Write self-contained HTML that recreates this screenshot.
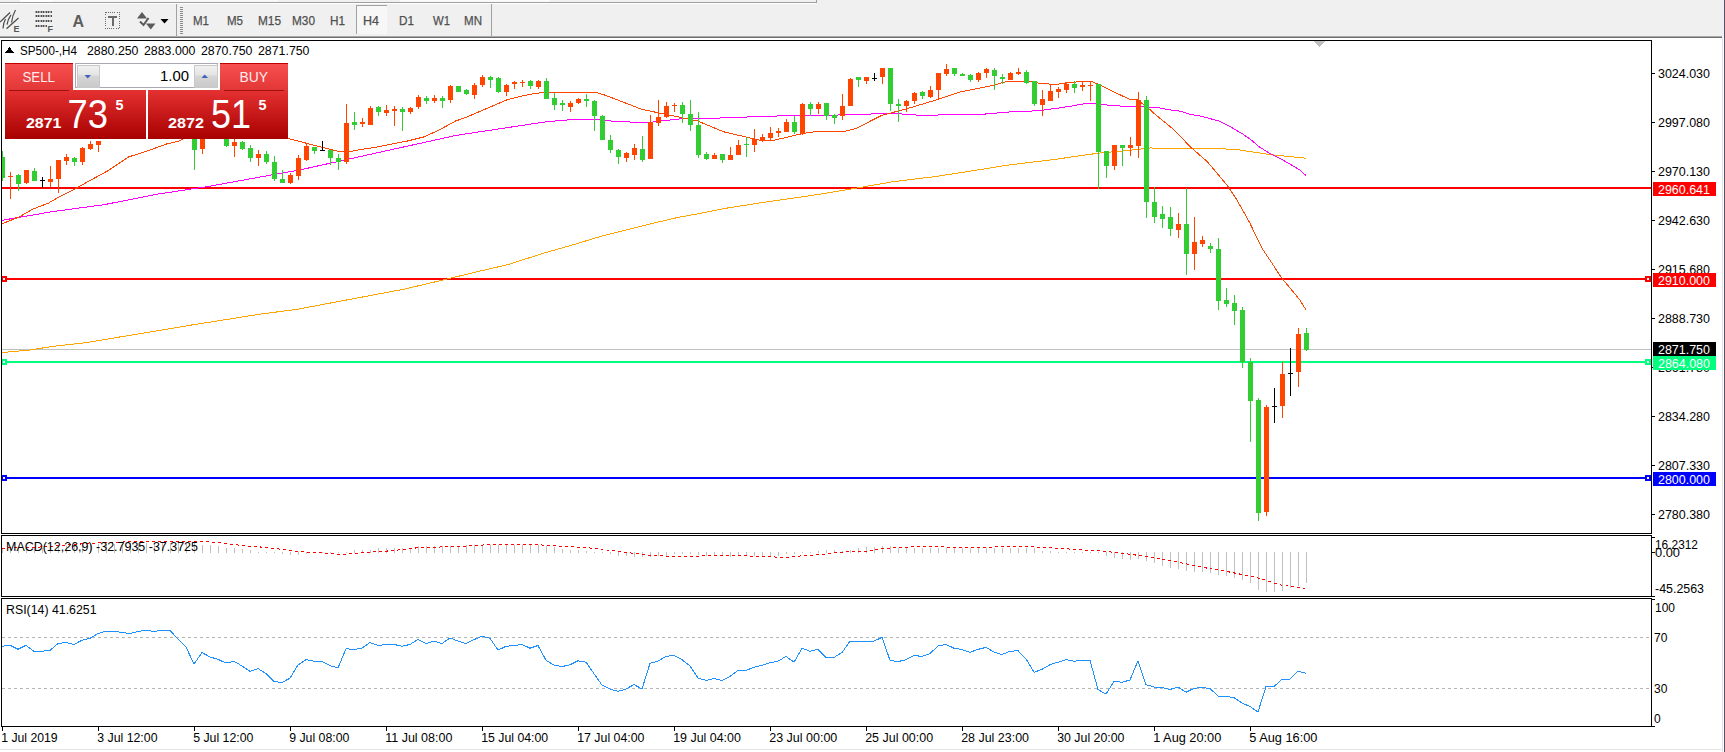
<!DOCTYPE html>
<html><head><meta charset="utf-8"><style>
html,body{margin:0;padding:0;width:1725px;height:752px;overflow:hidden;background:#fff;}
body{position:relative;font-family:"Liberation Sans", sans-serif;}
.tb{position:absolute;left:0;top:0;width:1725px;height:38px;background:#f0f0f0;}
svg{position:absolute;left:0;top:0;}
text{font-family:"Liberation Sans", sans-serif;}
</style></head><body>
<svg width="1725" height="752" viewBox="0 0 1725 752" shape-rendering="crispEdges">
<rect x="0" y="0" width="1725" height="752" fill="#fff"/>
<rect x="0" y="0" width="1725" height="38" fill="#f0f0f0"/>
<rect x="20" y="0" width="32" height="2" fill="#ffffff"/>
<rect x="52" y="0" width="226" height="2" fill="#f8f8f8"/>
<rect x="400" y="0" width="150" height="2" fill="#fafafa"/>
<rect x="0" y="2" width="816" height="1" fill="#a0a0a0"/>
<rect x="816" y="0" width="1" height="3" fill="#a0a0a0"/>
<rect x="0" y="3" width="816" height="1" fill="#ffffff"/>
<rect x="0" y="36" width="1722" height="1" fill="#a8a8a8"/>
<rect x="0" y="37" width="1722" height="1" fill="#6e6e6e"/>
<rect x="0" y="38" width="1722" height="2" fill="#ffffff"/>
<!-- right edge -->
<rect x="1722" y="38" width="1" height="714" fill="#e3e3e3"/>
<rect x="1723" y="38" width="1" height="714" fill="#ffffff"/>
<rect x="1724" y="0" width="1" height="752" fill="#5a5262"/>
<rect x="0" y="749" width="1722" height="1" fill="#e3e3e3"/>
<!-- separators -->
<rect x="176" y="4" width="1" height="32" fill="#a0a0a0"/>
<g fill="#8a8a8a">
<rect x="180" y="7" width="3" height="1"/><rect x="180" y="9" width="3" height="1"/><rect x="180" y="11" width="3" height="1"/><rect x="180" y="13" width="3" height="1"/><rect x="180" y="15" width="3" height="1"/><rect x="180" y="17" width="3" height="1"/><rect x="180" y="19" width="3" height="1"/><rect x="180" y="21" width="3" height="1"/><rect x="180" y="23" width="3" height="1"/><rect x="180" y="25" width="3" height="1"/><rect x="180" y="27" width="3" height="1"/><rect x="180" y="29" width="3" height="1"/><rect x="180" y="31" width="3" height="1"/><rect x="180" y="33" width="3" height="1"/>
</g>
<rect x="491" y="4" width="1" height="32" fill="#a0a0a0"/>
<!-- H4 pressed button -->
<rect x="356" y="5" width="31" height="29" fill="#f7f7f7"/>
<rect x="356" y="5" width="31" height="1" fill="#a0a0a0"/>
<rect x="356" y="5" width="1" height="29" fill="#a0a0a0"/>
<!-- timeframe labels -->
<g font-size="12" fill="#505050" font-family="Liberation Sans, sans-serif" stroke="#505050" stroke-width="0.25">
<text x="193" y="25" textLength="16" lengthAdjust="spacingAndGlyphs">M1</text>
<text x="227" y="25" textLength="16" lengthAdjust="spacingAndGlyphs">M5</text>
<text x="258" y="25" textLength="23" lengthAdjust="spacingAndGlyphs">M15</text>
<text x="292" y="25" textLength="23" lengthAdjust="spacingAndGlyphs">M30</text>
<text x="330" y="25" textLength="15" lengthAdjust="spacingAndGlyphs">H1</text>
<text x="363" y="25" textLength="16" lengthAdjust="spacingAndGlyphs">H4</text>
<text x="399" y="25" textLength="15" lengthAdjust="spacingAndGlyphs">D1</text>
<text x="433" y="25" textLength="17" lengthAdjust="spacingAndGlyphs">W1</text>
<text x="464" y="25" textLength="18" lengthAdjust="spacingAndGlyphs">MN</text>
</g>
<!-- icon 1: equidistant channel -->
<g stroke="#4a4a4a" stroke-width="1.2" fill="none" shape-rendering="geometricPrecision">
<path d="M0,22 L10,12.5"/>
<path d="M6.5,28.8 L18.5,18"/>
<path d="M3,28.4 Q3.2,23 5.5,19 M7,24.6 Q8,19 11,14.9 M11.5,22.5 Q12.5,15 15.5,10"/>
</g>
<text x="13.5" y="32" font-size="9" font-weight="bold" fill="#555" font-family="Liberation Sans, sans-serif">E</text>
<!-- icon 2: fibo -->
<rect x="35" y="11" width="17" height="2" fill="#a8a8a8"/><rect x="36" y="11" width="1" height="2" fill="#505050"/><rect x="38" y="11" width="1" height="2" fill="#505050"/><rect x="41" y="11" width="1" height="2" fill="#505050"/><rect x="43" y="11" width="1" height="2" fill="#505050"/><rect x="46" y="11" width="1" height="2" fill="#505050"/><rect x="48" y="11" width="1" height="2" fill="#505050"/><rect x="51" y="11" width="1" height="2" fill="#505050"/><rect x="35" y="15" width="17" height="2" fill="#a8a8a8"/><rect x="36" y="15" width="1" height="2" fill="#505050"/><rect x="38" y="15" width="1" height="2" fill="#505050"/><rect x="41" y="15" width="1" height="2" fill="#505050"/><rect x="43" y="15" width="1" height="2" fill="#505050"/><rect x="46" y="15" width="1" height="2" fill="#505050"/><rect x="48" y="15" width="1" height="2" fill="#505050"/><rect x="51" y="15" width="1" height="2" fill="#505050"/><rect x="35" y="20" width="17" height="2" fill="#a8a8a8"/><rect x="36" y="20" width="1" height="2" fill="#505050"/><rect x="38" y="20" width="1" height="2" fill="#505050"/><rect x="41" y="20" width="1" height="2" fill="#505050"/><rect x="43" y="20" width="1" height="2" fill="#505050"/><rect x="46" y="20" width="1" height="2" fill="#505050"/><rect x="48" y="20" width="1" height="2" fill="#505050"/><rect x="51" y="20" width="1" height="2" fill="#505050"/><rect x="35" y="25" width="12" height="2" fill="#a8a8a8"/><rect x="36" y="25" width="1" height="2" fill="#505050"/><rect x="38" y="25" width="1" height="2" fill="#505050"/><rect x="41" y="25" width="1" height="2" fill="#505050"/><rect x="43" y="25" width="1" height="2" fill="#505050"/><rect x="46" y="25" width="1" height="2" fill="#505050"/>
<text x="47.5" y="32" font-size="9" font-weight="bold" fill="#555" font-family="Liberation Sans, sans-serif">F</text>
<!-- icon 3: A -->
<text x="72.5" y="26.7" font-size="16" font-weight="bold" fill="#5e5e5e" font-family="Liberation Sans, sans-serif">A</text>
<!-- icon 4: T box -->
<rect x="105.5" y="12.5" width="14" height="16" fill="none" stroke="#6a6a6a" stroke-width="1" stroke-dasharray="1,1.2"/>
<rect x="108" y="16" width="9" height="2" fill="#6a6a6a"/>
<rect x="111.5" y="16" width="2" height="10" fill="#6a6a6a"/>
<!-- icon 5: arrows -->
<g shape-rendering="geometricPrecision">
<path d="M137,18.5 L142,12 L147,18.5 Z" fill="#5a5a5a"/>
<path d="M146,23.5 L155.5,23.5 L150.75,29.5 Z" fill="#5a5a5a"/>
<path d="M140,21.5 L143.5,25 L148.5,18" fill="none" stroke="#5a5a5a" stroke-width="2"/>
<path d="M160.5,19 L168.5,19 L164.5,23.5 Z" fill="#000"/>
</g>

<defs><clipPath id="cm"><rect x="2" y="41" width="1649" height="492"/></clipPath><clipPath id="cd"><rect x="2" y="537" width="1649" height="59"/></clipPath><clipPath id="cr"><rect x="2" y="599" width="1649" height="127"/></clipPath></defs>
<g clip-path="url(#cm)">
<rect x="2" y="349" width="1649" height="1" fill="#c0c0c0"/>
<rect x="2" y="187" width="1649" height="2" fill="#ff0000"/>
<rect x="2" y="278" width="1649" height="2" fill="#ff0000"/>
<rect x="2" y="361" width="1649" height="2" fill="#00ff7f"/>
<rect x="2" y="477" width="1649" height="2" fill="#0000ff"/>
<polyline points="2.0,352.6 30.0,350.0 52.0,346.5 87.0,342.5 122.0,336.6 157.0,330.9 191.0,325.1 226.0,319.6 261.0,314.0 296.0,309.5 404.0,289.2 443.0,280.0 474.0,272.5 509.0,264.3 540.0,254.3 577.0,243.6 600.0,236.6 628.0,229.5 651.0,223.7 679.0,217.2 700.0,213.5 725.0,208.4 767.0,201.8 809.0,195.9 850.0,189.2 892.0,181.9 934.0,176.7 950.0,174.3 985.0,168.8 1008.0,165.1 1031.0,162.2 1054.0,159.6 1077.0,156.1 1100.0,153.0 1124.0,150.9 1150.0,148.0 1219.8,148.6 1239.0,149.9 1270.9,154.7 1306.0,158.2" fill="none" stroke="#ffa500" stroke-width="1"/>
<polyline points="2.0,220.3 52.0,211.7 104.0,204.7 156.5,194.3 208.7,186.4 260.9,176.9 300.8,169.7 456.0,135.4 546.0,121.8 573.6,119.4 596.0,119.1 615.0,121.5 639.0,122.3 650.0,122.3 679.0,119.0 711.0,118.3 734.8,117.5 766.0,116.2 814.6,115.4 862.4,114.6 878.4,113.5 906.0,114.1 919.0,115.3 982.0,114.3 1014.0,111.6 1038.0,110.8 1056.0,108.4 1070.0,106.3 1086.0,103.4 1094.0,103.4 1103.0,104.3 1110.0,105.5 1127.0,106.4 1134.0,106.4 1150.0,107.1 1160.0,108.0 1170.0,109.9 1180.0,111.1 1190.0,114.4 1200.0,116.0 1210.0,118.6 1220.0,121.3 1230.0,126.5 1243.0,134.2 1250.0,139.0 1259.0,146.6 1270.0,153.6 1280.0,158.5 1290.0,164.0 1300.0,170.2 1306.0,175.5" fill="none" stroke="#ff00ff" stroke-width="1"/>
<polyline points="2.0,223.8 19.4,216.9 33.0,209.0 48.7,203.0 59.0,196.9 74.8,189.0 90.4,180.3 107.8,170.8 128.7,156.9 147.8,150.8 167.0,143.8 179.0,141.2 200.0,128.0 288.7,138.6 300.0,141.6 338.0,151.3 351.8,151.3 359.8,149.7 375.7,147.3 391.7,144.1 407.6,141.0 423.6,137.0 439.5,129.8 455.5,121.0 465.0,117.8 506.6,100.0 522.5,95.8 537.0,93.1 557.6,92.3 596.0,92.3 606.0,95.5 642.3,109.5 671.0,115.4 698.0,121.1 723.6,131.8 756.0,139.3 762.0,140.6 774.7,140.1 801.8,133.7 814.6,131.7 844.9,131.3 856.0,128.5 881.6,115.4 906.0,109.0 938.3,99.3 959.8,92.0 991.7,85.6 1007.6,81.3 1030.0,81.3 1039.5,83.4 1056.0,84.5 1070.0,82.3 1085.9,81.5 1092.0,81.5 1100.0,85.2 1129.0,99.1 1137.0,99.6 1149.7,109.4 1156.0,115.1 1173.6,129.4 1181.5,137.5 1189.5,146.1 1207.0,161.4 1214.4,170.0 1227.8,186.1 1235.8,198.1 1249.5,222.3 1261.8,248.0 1281.7,277.9 1299.7,299.8 1305.7,309.4" fill="none" stroke="#ff4500" stroke-width="1"/>
<rect x="2" y="151" width="1" height="30" fill="#32cd32"/>
<rect x="0" y="157" width="5" height="21" fill="#32cd32"/>
<rect x="10" y="172" width="1" height="27" fill="#ff4500"/>
<rect x="8" y="176" width="5" height="1" fill="#ff4500"/>
<rect x="18" y="174" width="1" height="17" fill="#32cd32"/>
<rect x="16" y="175" width="5" height="9" fill="#32cd32"/>
<rect x="26" y="170" width="1" height="14" fill="#ff4500"/>
<rect x="24" y="170" width="5" height="13" fill="#ff4500"/>
<rect x="34" y="168" width="1" height="13" fill="#32cd32"/>
<rect x="32" y="171" width="5" height="10" fill="#32cd32"/>
<rect x="42" y="177" width="1" height="11" fill="#000000"/>
<rect x="40" y="180" width="5" height="1" fill="#000000"/>
<rect x="50" y="166" width="1" height="21" fill="#ff4500"/>
<rect x="48" y="179" width="5" height="3" fill="#ff4500"/>
<rect x="58" y="160" width="1" height="33" fill="#ff4500"/>
<rect x="56" y="160" width="5" height="19" fill="#ff4500"/>
<rect x="66" y="154" width="1" height="11" fill="#ff4500"/>
<rect x="64" y="157" width="5" height="4" fill="#ff4500"/>
<rect x="74" y="157" width="1" height="9" fill="#32cd32"/>
<rect x="72" y="158" width="5" height="4" fill="#32cd32"/>
<rect x="82" y="147" width="1" height="18" fill="#ff4500"/>
<rect x="80" y="148" width="5" height="14" fill="#ff4500"/>
<rect x="90" y="141" width="1" height="9" fill="#ff4500"/>
<rect x="88" y="144" width="5" height="5" fill="#ff4500"/>
<rect x="98" y="141" width="1" height="11" fill="#ff4500"/>
<rect x="96" y="141" width="5" height="4" fill="#ff4500"/>
<rect x="194" y="120" width="1" height="50" fill="#32cd32"/>
<rect x="192" y="125" width="5" height="25" fill="#32cd32"/>
<rect x="202" y="128" width="1" height="26" fill="#ff4500"/>
<rect x="200" y="130" width="5" height="19" fill="#ff4500"/>
<rect x="226" y="133" width="1" height="14" fill="#32cd32"/>
<rect x="224" y="135" width="5" height="11" fill="#32cd32"/>
<rect x="234" y="136" width="1" height="21" fill="#ff4500"/>
<rect x="232" y="142" width="5" height="4" fill="#ff4500"/>
<rect x="242" y="141" width="1" height="9" fill="#32cd32"/>
<rect x="240" y="142" width="5" height="7" fill="#32cd32"/>
<rect x="250" y="145" width="1" height="17" fill="#32cd32"/>
<rect x="248" y="148" width="5" height="10" fill="#32cd32"/>
<rect x="258" y="150" width="1" height="16" fill="#ff4500"/>
<rect x="256" y="154" width="5" height="4" fill="#ff4500"/>
<rect x="266" y="151" width="1" height="13" fill="#32cd32"/>
<rect x="264" y="154" width="5" height="8" fill="#32cd32"/>
<rect x="274" y="156" width="1" height="25" fill="#32cd32"/>
<rect x="272" y="162" width="5" height="17" fill="#32cd32"/>
<rect x="282" y="170" width="1" height="13" fill="#32cd32"/>
<rect x="280" y="179" width="5" height="4" fill="#32cd32"/>
<rect x="290" y="173" width="1" height="11" fill="#ff4500"/>
<rect x="288" y="175" width="5" height="8" fill="#ff4500"/>
<rect x="298" y="155" width="1" height="25" fill="#ff4500"/>
<rect x="296" y="158" width="5" height="18" fill="#ff4500"/>
<rect x="306" y="143" width="1" height="18" fill="#ff4500"/>
<rect x="304" y="146" width="5" height="14" fill="#ff4500"/>
<rect x="314" y="147" width="1" height="7" fill="#32cd32"/>
<rect x="312" y="147" width="5" height="4" fill="#32cd32"/>
<rect x="322" y="141" width="1" height="10" fill="#000000"/>
<rect x="320" y="150" width="5" height="1" fill="#000000"/>
<rect x="330" y="150" width="1" height="15" fill="#32cd32"/>
<rect x="328" y="150" width="5" height="8" fill="#32cd32"/>
<rect x="338" y="154" width="1" height="16" fill="#32cd32"/>
<rect x="336" y="158" width="5" height="4" fill="#32cd32"/>
<rect x="346" y="104" width="1" height="60" fill="#ff4500"/>
<rect x="344" y="123" width="5" height="39" fill="#ff4500"/>
<rect x="354" y="112" width="1" height="18" fill="#32cd32"/>
<rect x="352" y="122" width="5" height="3" fill="#32cd32"/>
<rect x="362" y="118" width="1" height="9" fill="#ff4500"/>
<rect x="360" y="122" width="5" height="2" fill="#ff4500"/>
<rect x="370" y="106" width="1" height="19" fill="#ff4500"/>
<rect x="368" y="108" width="5" height="17" fill="#ff4500"/>
<rect x="378" y="106" width="1" height="10" fill="#32cd32"/>
<rect x="376" y="107" width="5" height="5" fill="#32cd32"/>
<rect x="386" y="105" width="1" height="11" fill="#ff4500"/>
<rect x="384" y="110" width="5" height="3" fill="#ff4500"/>
<rect x="394" y="106" width="1" height="20" fill="#ff4500"/>
<rect x="392" y="109" width="5" height="2" fill="#ff4500"/>
<rect x="402" y="107" width="1" height="24" fill="#32cd32"/>
<rect x="400" y="109" width="5" height="3" fill="#32cd32"/>
<rect x="410" y="107" width="1" height="7" fill="#ff4500"/>
<rect x="408" y="108" width="5" height="4" fill="#ff4500"/>
<rect x="418" y="95" width="1" height="14" fill="#ff4500"/>
<rect x="416" y="97" width="5" height="10" fill="#ff4500"/>
<rect x="426" y="96" width="1" height="8" fill="#32cd32"/>
<rect x="424" y="98" width="5" height="3" fill="#32cd32"/>
<rect x="434" y="95" width="1" height="8" fill="#ff4500"/>
<rect x="432" y="98" width="5" height="3" fill="#ff4500"/>
<rect x="442" y="96" width="1" height="12" fill="#32cd32"/>
<rect x="440" y="98" width="5" height="3" fill="#32cd32"/>
<rect x="450" y="85" width="1" height="18" fill="#ff4500"/>
<rect x="448" y="86" width="5" height="14" fill="#ff4500"/>
<rect x="458" y="86" width="1" height="6" fill="#32cd32"/>
<rect x="456" y="86" width="5" height="6" fill="#32cd32"/>
<rect x="466" y="89" width="1" height="6" fill="#32cd32"/>
<rect x="464" y="90" width="5" height="4" fill="#32cd32"/>
<rect x="474" y="83" width="1" height="16" fill="#ff4500"/>
<rect x="472" y="85" width="5" height="10" fill="#ff4500"/>
<rect x="482" y="75" width="1" height="12" fill="#ff4500"/>
<rect x="480" y="77" width="5" height="8" fill="#ff4500"/>
<rect x="490" y="76" width="1" height="12" fill="#32cd32"/>
<rect x="488" y="77" width="5" height="3" fill="#32cd32"/>
<rect x="498" y="77" width="1" height="16" fill="#32cd32"/>
<rect x="496" y="78" width="5" height="14" fill="#32cd32"/>
<rect x="506" y="84" width="1" height="12" fill="#ff4500"/>
<rect x="504" y="85" width="5" height="7" fill="#ff4500"/>
<rect x="514" y="81" width="1" height="8" fill="#ff4500"/>
<rect x="512" y="82" width="5" height="2" fill="#ff4500"/>
<rect x="522" y="80" width="1" height="7" fill="#ff4500"/>
<rect x="520" y="82" width="5" height="1" fill="#ff4500"/>
<rect x="530" y="80" width="1" height="9" fill="#32cd32"/>
<rect x="528" y="81" width="5" height="5" fill="#32cd32"/>
<rect x="538" y="80" width="1" height="9" fill="#ff4500"/>
<rect x="536" y="81" width="5" height="6" fill="#ff4500"/>
<rect x="546" y="78" width="1" height="21" fill="#32cd32"/>
<rect x="544" y="81" width="5" height="18" fill="#32cd32"/>
<rect x="554" y="93" width="1" height="17" fill="#32cd32"/>
<rect x="552" y="98" width="5" height="7" fill="#32cd32"/>
<rect x="562" y="100" width="1" height="11" fill="#32cd32"/>
<rect x="560" y="103" width="5" height="2" fill="#32cd32"/>
<rect x="570" y="101" width="1" height="11" fill="#ff4500"/>
<rect x="568" y="103" width="5" height="4" fill="#ff4500"/>
<rect x="578" y="98" width="1" height="6" fill="#ff4500"/>
<rect x="576" y="99" width="5" height="4" fill="#ff4500"/>
<rect x="586" y="94" width="1" height="13" fill="#32cd32"/>
<rect x="584" y="99" width="5" height="2" fill="#32cd32"/>
<rect x="594" y="100" width="1" height="31" fill="#32cd32"/>
<rect x="592" y="101" width="5" height="15" fill="#32cd32"/>
<rect x="602" y="115" width="1" height="25" fill="#32cd32"/>
<rect x="600" y="116" width="5" height="24" fill="#32cd32"/>
<rect x="610" y="135" width="1" height="18" fill="#32cd32"/>
<rect x="608" y="140" width="5" height="10" fill="#32cd32"/>
<rect x="618" y="149" width="1" height="15" fill="#32cd32"/>
<rect x="616" y="150" width="5" height="7" fill="#32cd32"/>
<rect x="626" y="152" width="1" height="10" fill="#ff4500"/>
<rect x="624" y="153" width="5" height="5" fill="#ff4500"/>
<rect x="634" y="144" width="1" height="16" fill="#ff4500"/>
<rect x="632" y="148" width="5" height="7" fill="#ff4500"/>
<rect x="642" y="136" width="1" height="26" fill="#32cd32"/>
<rect x="640" y="149" width="5" height="11" fill="#32cd32"/>
<rect x="650" y="115" width="1" height="44" fill="#ff4500"/>
<rect x="648" y="122" width="5" height="37" fill="#ff4500"/>
<rect x="658" y="100" width="1" height="26" fill="#ff4500"/>
<rect x="656" y="117" width="5" height="6" fill="#ff4500"/>
<rect x="666" y="102" width="1" height="16" fill="#ff4500"/>
<rect x="664" y="106" width="5" height="11" fill="#ff4500"/>
<rect x="674" y="103" width="1" height="9" fill="#ff4500"/>
<rect x="672" y="105" width="5" height="1" fill="#ff4500"/>
<rect x="682" y="102" width="1" height="21" fill="#32cd32"/>
<rect x="680" y="105" width="5" height="9" fill="#32cd32"/>
<rect x="690" y="100" width="1" height="31" fill="#32cd32"/>
<rect x="688" y="114" width="5" height="11" fill="#32cd32"/>
<rect x="698" y="112" width="1" height="46" fill="#32cd32"/>
<rect x="696" y="125" width="5" height="30" fill="#32cd32"/>
<rect x="706" y="152" width="1" height="8" fill="#32cd32"/>
<rect x="704" y="154" width="5" height="5" fill="#32cd32"/>
<rect x="714" y="153" width="1" height="6" fill="#ff4500"/>
<rect x="712" y="155" width="5" height="4" fill="#ff4500"/>
<rect x="722" y="154" width="1" height="9" fill="#32cd32"/>
<rect x="720" y="154" width="5" height="6" fill="#32cd32"/>
<rect x="730" y="147" width="1" height="13" fill="#ff4500"/>
<rect x="728" y="155" width="5" height="5" fill="#ff4500"/>
<rect x="738" y="140" width="1" height="15" fill="#ff4500"/>
<rect x="736" y="145" width="5" height="10" fill="#ff4500"/>
<rect x="746" y="137" width="1" height="20" fill="#32cd32"/>
<rect x="744" y="144" width="5" height="1" fill="#32cd32"/>
<rect x="754" y="129" width="1" height="23" fill="#ff4500"/>
<rect x="752" y="139" width="5" height="6" fill="#ff4500"/>
<rect x="762" y="134" width="1" height="8" fill="#ff4500"/>
<rect x="760" y="137" width="5" height="4" fill="#ff4500"/>
<rect x="770" y="127" width="1" height="13" fill="#ff4500"/>
<rect x="768" y="133" width="5" height="5" fill="#ff4500"/>
<rect x="778" y="128" width="1" height="9" fill="#ff4500"/>
<rect x="776" y="131" width="5" height="2" fill="#ff4500"/>
<rect x="786" y="119" width="1" height="13" fill="#ff4500"/>
<rect x="784" y="122" width="5" height="10" fill="#ff4500"/>
<rect x="794" y="116" width="1" height="18" fill="#32cd32"/>
<rect x="792" y="122" width="5" height="10" fill="#32cd32"/>
<rect x="802" y="103" width="1" height="32" fill="#ff4500"/>
<rect x="800" y="104" width="5" height="29" fill="#ff4500"/>
<rect x="810" y="102" width="1" height="14" fill="#32cd32"/>
<rect x="808" y="104" width="5" height="5" fill="#32cd32"/>
<rect x="818" y="102" width="1" height="12" fill="#ff4500"/>
<rect x="816" y="104" width="5" height="5" fill="#ff4500"/>
<rect x="826" y="103" width="1" height="17" fill="#32cd32"/>
<rect x="824" y="103" width="5" height="13" fill="#32cd32"/>
<rect x="834" y="114" width="1" height="10" fill="#32cd32"/>
<rect x="832" y="115" width="5" height="3" fill="#32cd32"/>
<rect x="842" y="94" width="1" height="26" fill="#ff4500"/>
<rect x="840" y="106" width="5" height="10" fill="#ff4500"/>
<rect x="850" y="78" width="1" height="28" fill="#ff4500"/>
<rect x="848" y="79" width="5" height="27" fill="#ff4500"/>
<rect x="858" y="77" width="1" height="10" fill="#32cd32"/>
<rect x="856" y="77" width="5" height="3" fill="#32cd32"/>
<rect x="866" y="77" width="1" height="7" fill="#ff4500"/>
<rect x="864" y="77" width="5" height="4" fill="#ff4500"/>
<rect x="874" y="73" width="1" height="8" fill="#000000"/>
<rect x="872" y="78" width="5" height="1" fill="#000000"/>
<rect x="882" y="68" width="1" height="16" fill="#ff4500"/>
<rect x="880" y="68" width="5" height="9" fill="#ff4500"/>
<rect x="890" y="68" width="1" height="43" fill="#32cd32"/>
<rect x="888" y="68" width="5" height="36" fill="#32cd32"/>
<rect x="898" y="99" width="1" height="23" fill="#32cd32"/>
<rect x="896" y="104" width="5" height="2" fill="#32cd32"/>
<rect x="906" y="100" width="1" height="12" fill="#ff4500"/>
<rect x="904" y="101" width="5" height="5" fill="#ff4500"/>
<rect x="914" y="92" width="1" height="12" fill="#ff4500"/>
<rect x="912" y="93" width="5" height="8" fill="#ff4500"/>
<rect x="922" y="91" width="1" height="8" fill="#32cd32"/>
<rect x="920" y="92" width="5" height="4" fill="#32cd32"/>
<rect x="930" y="86" width="1" height="12" fill="#ff4500"/>
<rect x="928" y="90" width="5" height="7" fill="#ff4500"/>
<rect x="938" y="73" width="1" height="26" fill="#ff4500"/>
<rect x="936" y="73" width="5" height="17" fill="#ff4500"/>
<rect x="946" y="64" width="1" height="12" fill="#ff4500"/>
<rect x="944" y="69" width="5" height="5" fill="#ff4500"/>
<rect x="954" y="68" width="1" height="8" fill="#32cd32"/>
<rect x="952" y="68" width="5" height="6" fill="#32cd32"/>
<rect x="962" y="73" width="1" height="3" fill="#32cd32"/>
<rect x="960" y="74" width="5" height="2" fill="#32cd32"/>
<rect x="970" y="74" width="1" height="8" fill="#32cd32"/>
<rect x="968" y="75" width="5" height="5" fill="#32cd32"/>
<rect x="978" y="72" width="1" height="10" fill="#ff4500"/>
<rect x="976" y="73" width="5" height="7" fill="#ff4500"/>
<rect x="986" y="68" width="1" height="10" fill="#ff4500"/>
<rect x="984" y="69" width="5" height="4" fill="#ff4500"/>
<rect x="994" y="68" width="1" height="22" fill="#32cd32"/>
<rect x="992" y="70" width="5" height="6" fill="#32cd32"/>
<rect x="1002" y="74" width="1" height="10" fill="#32cd32"/>
<rect x="1000" y="77" width="5" height="2" fill="#32cd32"/>
<rect x="1010" y="72" width="1" height="8" fill="#ff4500"/>
<rect x="1008" y="73" width="5" height="7" fill="#ff4500"/>
<rect x="1018" y="68" width="1" height="7" fill="#ff4500"/>
<rect x="1016" y="72" width="5" height="2" fill="#ff4500"/>
<rect x="1026" y="70" width="1" height="14" fill="#32cd32"/>
<rect x="1024" y="72" width="5" height="11" fill="#32cd32"/>
<rect x="1034" y="81" width="1" height="25" fill="#32cd32"/>
<rect x="1032" y="81" width="5" height="23" fill="#32cd32"/>
<rect x="1042" y="90" width="1" height="26" fill="#ff4500"/>
<rect x="1040" y="99" width="5" height="6" fill="#ff4500"/>
<rect x="1050" y="84" width="1" height="17" fill="#ff4500"/>
<rect x="1048" y="91" width="5" height="10" fill="#ff4500"/>
<rect x="1058" y="87" width="1" height="11" fill="#ff4500"/>
<rect x="1056" y="89" width="5" height="3" fill="#ff4500"/>
<rect x="1066" y="82" width="1" height="11" fill="#ff4500"/>
<rect x="1064" y="84" width="5" height="6" fill="#ff4500"/>
<rect x="1074" y="81" width="1" height="12" fill="#32cd32"/>
<rect x="1072" y="84" width="5" height="4" fill="#32cd32"/>
<rect x="1082" y="81" width="1" height="10" fill="#ff4500"/>
<rect x="1080" y="85" width="5" height="2" fill="#ff4500"/>
<rect x="1090" y="81" width="1" height="20" fill="#ff4500"/>
<rect x="1088" y="85" width="5" height="1" fill="#ff4500"/>
<rect x="1098" y="84" width="1" height="105" fill="#32cd32"/>
<rect x="1096" y="84" width="5" height="68" fill="#32cd32"/>
<rect x="1106" y="151" width="1" height="27" fill="#32cd32"/>
<rect x="1104" y="151" width="5" height="15" fill="#32cd32"/>
<rect x="1114" y="145" width="1" height="25" fill="#ff4500"/>
<rect x="1112" y="145" width="5" height="21" fill="#ff4500"/>
<rect x="1122" y="145" width="1" height="21" fill="#32cd32"/>
<rect x="1120" y="145" width="5" height="3" fill="#32cd32"/>
<rect x="1130" y="137" width="1" height="19" fill="#ff4500"/>
<rect x="1128" y="145" width="5" height="3" fill="#ff4500"/>
<rect x="1138" y="92" width="1" height="66" fill="#ff4500"/>
<rect x="1136" y="100" width="5" height="46" fill="#ff4500"/>
<rect x="1146" y="96" width="1" height="122" fill="#32cd32"/>
<rect x="1144" y="100" width="5" height="102" fill="#32cd32"/>
<rect x="1154" y="187" width="1" height="36" fill="#32cd32"/>
<rect x="1152" y="202" width="5" height="15" fill="#32cd32"/>
<rect x="1162" y="206" width="1" height="22" fill="#32cd32"/>
<rect x="1160" y="214" width="5" height="5" fill="#32cd32"/>
<rect x="1170" y="207" width="1" height="29" fill="#32cd32"/>
<rect x="1168" y="217" width="5" height="12" fill="#32cd32"/>
<rect x="1178" y="213" width="1" height="25" fill="#ff4500"/>
<rect x="1176" y="224" width="5" height="6" fill="#ff4500"/>
<rect x="1186" y="188" width="1" height="87" fill="#32cd32"/>
<rect x="1184" y="224" width="5" height="30" fill="#32cd32"/>
<rect x="1194" y="217" width="1" height="53" fill="#ff4500"/>
<rect x="1192" y="242" width="5" height="12" fill="#ff4500"/>
<rect x="1202" y="236" width="1" height="11" fill="#ff4500"/>
<rect x="1200" y="240" width="5" height="4" fill="#ff4500"/>
<rect x="1210" y="243" width="1" height="10" fill="#32cd32"/>
<rect x="1208" y="246" width="5" height="3" fill="#32cd32"/>
<rect x="1218" y="238" width="1" height="72" fill="#32cd32"/>
<rect x="1216" y="249" width="5" height="52" fill="#32cd32"/>
<rect x="1226" y="288" width="1" height="19" fill="#32cd32"/>
<rect x="1224" y="300" width="5" height="4" fill="#32cd32"/>
<rect x="1234" y="295" width="1" height="30" fill="#32cd32"/>
<rect x="1232" y="303" width="5" height="8" fill="#32cd32"/>
<rect x="1242" y="307" width="1" height="61" fill="#32cd32"/>
<rect x="1240" y="310" width="5" height="52" fill="#32cd32"/>
<rect x="1250" y="358" width="1" height="84" fill="#32cd32"/>
<rect x="1248" y="362" width="5" height="39" fill="#32cd32"/>
<rect x="1258" y="398" width="1" height="123" fill="#32cd32"/>
<rect x="1256" y="400" width="5" height="113" fill="#32cd32"/>
<rect x="1266" y="405" width="1" height="111" fill="#ff4500"/>
<rect x="1264" y="407" width="5" height="105" fill="#ff4500"/>
<rect x="1274" y="388" width="1" height="35" fill="#000000"/>
<rect x="1272" y="406" width="5" height="1" fill="#000000"/>
<rect x="1282" y="362" width="1" height="56" fill="#ff4500"/>
<rect x="1280" y="374" width="5" height="32" fill="#ff4500"/>
<rect x="1290" y="348" width="1" height="48" fill="#000000"/>
<rect x="1288" y="373" width="5" height="1" fill="#000000"/>
<rect x="1298" y="328" width="1" height="59" fill="#ff4500"/>
<rect x="1296" y="334" width="5" height="38" fill="#ff4500"/>
<rect x="1306" y="328" width="1" height="23" fill="#32cd32"/>
<rect x="1304" y="333" width="5" height="17" fill="#32cd32"/>
</g>
<rect x="1" y="276" width="6" height="6" fill="#ff0000"/><rect x="3" y="278" width="2" height="2" fill="#fff"/>
<rect x="1645" y="276" width="6" height="6" fill="#ff0000"/><rect x="1647" y="278" width="2" height="2" fill="#fff"/>
<rect x="1" y="359" width="6" height="6" fill="#00ff7f"/><rect x="3" y="361" width="2" height="2" fill="#fff"/>
<rect x="1645" y="359" width="6" height="6" fill="#00ff7f"/><rect x="1647" y="361" width="2" height="2" fill="#fff"/>
<rect x="1" y="475" width="6" height="6" fill="#0000ff"/><rect x="3" y="477" width="2" height="2" fill="#fff"/>
<rect x="1645" y="475" width="6" height="6" fill="#0000ff"/><rect x="1647" y="477" width="2" height="2" fill="#fff"/>
<g clip-path="url(#cd)">
<rect x="2" y="548" width="1" height="5" fill="#c0c0c0"/>
<rect x="10" y="548" width="1" height="5" fill="#c0c0c0"/>
<rect x="18" y="548" width="1" height="5" fill="#c0c0c0"/>
<rect x="26" y="548" width="1" height="5" fill="#c0c0c0"/>
<rect x="34" y="548" width="1" height="5" fill="#c0c0c0"/>
<rect x="42" y="548" width="1" height="5" fill="#c0c0c0"/>
<rect x="50" y="546" width="1" height="7" fill="#c0c0c0"/>
<rect x="58" y="546" width="1" height="7" fill="#c0c0c0"/>
<rect x="66" y="546" width="1" height="7" fill="#c0c0c0"/>
<rect x="74" y="546" width="1" height="7" fill="#c0c0c0"/>
<rect x="82" y="546" width="1" height="7" fill="#c0c0c0"/>
<rect x="90" y="544" width="1" height="9" fill="#c0c0c0"/>
<rect x="98" y="544" width="1" height="9" fill="#c0c0c0"/>
<rect x="106" y="544" width="1" height="9" fill="#c0c0c0"/>
<rect x="114" y="544" width="1" height="9" fill="#c0c0c0"/>
<rect x="122" y="544" width="1" height="9" fill="#c0c0c0"/>
<rect x="130" y="543" width="1" height="10" fill="#c0c0c0"/>
<rect x="138" y="543" width="1" height="10" fill="#c0c0c0"/>
<rect x="146" y="543" width="1" height="10" fill="#c0c0c0"/>
<rect x="154" y="543" width="1" height="10" fill="#c0c0c0"/>
<rect x="162" y="543" width="1" height="10" fill="#c0c0c0"/>
<rect x="170" y="543" width="1" height="10" fill="#c0c0c0"/>
<rect x="178" y="543" width="1" height="10" fill="#c0c0c0"/>
<rect x="186" y="543" width="1" height="10" fill="#c0c0c0"/>
<rect x="194" y="543" width="1" height="10" fill="#c0c0c0"/>
<rect x="202" y="545" width="1" height="8" fill="#c0c0c0"/>
<rect x="210" y="545" width="1" height="8" fill="#c0c0c0"/>
<rect x="218" y="546" width="1" height="7" fill="#c0c0c0"/>
<rect x="226" y="548" width="1" height="5" fill="#c0c0c0"/>
<rect x="234" y="548" width="1" height="5" fill="#c0c0c0"/>
<rect x="242" y="549" width="1" height="4" fill="#c0c0c0"/>
<rect x="250" y="550" width="1" height="3" fill="#c0c0c0"/>
<rect x="258" y="552" width="1" height="1" fill="#c0c0c0"/>
<rect x="266" y="552" width="1" height="1" fill="#c0c0c0"/>
<rect x="274" y="552" width="1" height="1" fill="#c0c0c0"/>
<rect x="282" y="552" width="1" height="2" fill="#c0c0c0"/>
<rect x="290" y="552" width="1" height="3" fill="#c0c0c0"/>
<rect x="298" y="552" width="1" height="3" fill="#c0c0c0"/>
<rect x="306" y="552" width="1" height="2" fill="#c0c0c0"/>
<rect x="314" y="552" width="1" height="1" fill="#c0c0c0"/>
<rect x="322" y="552" width="1" height="1" fill="#c0c0c0"/>
<rect x="330" y="552" width="1" height="1" fill="#c0c0c0"/>
<rect x="338" y="552" width="1" height="1" fill="#c0c0c0"/>
<rect x="346" y="552" width="1" height="1" fill="#c0c0c0"/>
<rect x="354" y="550" width="1" height="3" fill="#c0c0c0"/>
<rect x="362" y="550" width="1" height="3" fill="#c0c0c0"/>
<rect x="370" y="550" width="1" height="3" fill="#c0c0c0"/>
<rect x="378" y="548" width="1" height="5" fill="#c0c0c0"/>
<rect x="386" y="548" width="1" height="5" fill="#c0c0c0"/>
<rect x="394" y="548" width="1" height="5" fill="#c0c0c0"/>
<rect x="402" y="548" width="1" height="5" fill="#c0c0c0"/>
<rect x="410" y="548" width="1" height="5" fill="#c0c0c0"/>
<rect x="418" y="546" width="1" height="7" fill="#c0c0c0"/>
<rect x="426" y="546" width="1" height="7" fill="#c0c0c0"/>
<rect x="434" y="546" width="1" height="7" fill="#c0c0c0"/>
<rect x="442" y="546" width="1" height="7" fill="#c0c0c0"/>
<rect x="450" y="546" width="1" height="7" fill="#c0c0c0"/>
<rect x="458" y="546" width="1" height="7" fill="#c0c0c0"/>
<rect x="466" y="545" width="1" height="8" fill="#c0c0c0"/>
<rect x="474" y="545" width="1" height="8" fill="#c0c0c0"/>
<rect x="482" y="545" width="1" height="8" fill="#c0c0c0"/>
<rect x="490" y="545" width="1" height="8" fill="#c0c0c0"/>
<rect x="498" y="545" width="1" height="8" fill="#c0c0c0"/>
<rect x="506" y="545" width="1" height="8" fill="#c0c0c0"/>
<rect x="514" y="545" width="1" height="8" fill="#c0c0c0"/>
<rect x="522" y="545" width="1" height="8" fill="#c0c0c0"/>
<rect x="530" y="545" width="1" height="8" fill="#c0c0c0"/>
<rect x="538" y="545" width="1" height="8" fill="#c0c0c0"/>
<rect x="546" y="546" width="1" height="7" fill="#c0c0c0"/>
<rect x="554" y="547" width="1" height="6" fill="#c0c0c0"/>
<rect x="562" y="549" width="1" height="4" fill="#c0c0c0"/>
<rect x="570" y="550" width="1" height="3" fill="#c0c0c0"/>
<rect x="578" y="550" width="1" height="3" fill="#c0c0c0"/>
<rect x="586" y="551" width="1" height="2" fill="#c0c0c0"/>
<rect x="594" y="552" width="1" height="1" fill="#c0c0c0"/>
<rect x="602" y="552" width="1" height="1" fill="#c0c0c0"/>
<rect x="610" y="552" width="1" height="2" fill="#c0c0c0"/>
<rect x="618" y="552" width="1" height="4" fill="#c0c0c0"/>
<rect x="626" y="552" width="1" height="4" fill="#c0c0c0"/>
<rect x="634" y="552" width="1" height="5" fill="#c0c0c0"/>
<rect x="642" y="552" width="1" height="5" fill="#c0c0c0"/>
<rect x="650" y="552" width="1" height="5" fill="#c0c0c0"/>
<rect x="658" y="552" width="1" height="4" fill="#c0c0c0"/>
<rect x="666" y="552" width="1" height="4" fill="#c0c0c0"/>
<rect x="674" y="552" width="1" height="2" fill="#c0c0c0"/>
<rect x="682" y="552" width="1" height="2" fill="#c0c0c0"/>
<rect x="690" y="552" width="1" height="2" fill="#c0c0c0"/>
<rect x="698" y="552" width="1" height="3" fill="#c0c0c0"/>
<rect x="706" y="552" width="1" height="4" fill="#c0c0c0"/>
<rect x="714" y="552" width="1" height="4" fill="#c0c0c0"/>
<rect x="722" y="552" width="1" height="4" fill="#c0c0c0"/>
<rect x="730" y="552" width="1" height="5" fill="#c0c0c0"/>
<rect x="738" y="552" width="1" height="4" fill="#c0c0c0"/>
<rect x="746" y="552" width="1" height="4" fill="#c0c0c0"/>
<rect x="754" y="552" width="1" height="4" fill="#c0c0c0"/>
<rect x="762" y="552" width="1" height="4" fill="#c0c0c0"/>
<rect x="770" y="552" width="1" height="4" fill="#c0c0c0"/>
<rect x="778" y="552" width="1" height="4" fill="#c0c0c0"/>
<rect x="786" y="552" width="1" height="2" fill="#c0c0c0"/>
<rect x="794" y="552" width="1" height="2" fill="#c0c0c0"/>
<rect x="802" y="552" width="1" height="1" fill="#c0c0c0"/>
<rect x="810" y="552" width="1" height="1" fill="#c0c0c0"/>
<rect x="818" y="551" width="1" height="2" fill="#c0c0c0"/>
<rect x="826" y="550" width="1" height="3" fill="#c0c0c0"/>
<rect x="834" y="550" width="1" height="3" fill="#c0c0c0"/>
<rect x="842" y="551" width="1" height="2" fill="#c0c0c0"/>
<rect x="850" y="550" width="1" height="3" fill="#c0c0c0"/>
<rect x="858" y="548" width="1" height="5" fill="#c0c0c0"/>
<rect x="866" y="547" width="1" height="6" fill="#c0c0c0"/>
<rect x="874" y="547" width="1" height="6" fill="#c0c0c0"/>
<rect x="882" y="546" width="1" height="7" fill="#c0c0c0"/>
<rect x="890" y="546" width="1" height="7" fill="#c0c0c0"/>
<rect x="898" y="548" width="1" height="5" fill="#c0c0c0"/>
<rect x="906" y="548" width="1" height="5" fill="#c0c0c0"/>
<rect x="914" y="548" width="1" height="5" fill="#c0c0c0"/>
<rect x="922" y="548" width="1" height="5" fill="#c0c0c0"/>
<rect x="930" y="548" width="1" height="5" fill="#c0c0c0"/>
<rect x="938" y="548" width="1" height="5" fill="#c0c0c0"/>
<rect x="946" y="548" width="1" height="5" fill="#c0c0c0"/>
<rect x="954" y="548" width="1" height="5" fill="#c0c0c0"/>
<rect x="962" y="548" width="1" height="5" fill="#c0c0c0"/>
<rect x="970" y="548" width="1" height="5" fill="#c0c0c0"/>
<rect x="978" y="548" width="1" height="5" fill="#c0c0c0"/>
<rect x="986" y="548" width="1" height="5" fill="#c0c0c0"/>
<rect x="994" y="548" width="1" height="5" fill="#c0c0c0"/>
<rect x="1002" y="548" width="1" height="5" fill="#c0c0c0"/>
<rect x="1010" y="548" width="1" height="5" fill="#c0c0c0"/>
<rect x="1018" y="548" width="1" height="5" fill="#c0c0c0"/>
<rect x="1026" y="548" width="1" height="5" fill="#c0c0c0"/>
<rect x="1034" y="548" width="1" height="5" fill="#c0c0c0"/>
<rect x="1042" y="551" width="1" height="2" fill="#c0c0c0"/>
<rect x="1050" y="551" width="1" height="2" fill="#c0c0c0"/>
<rect x="1058" y="552" width="1" height="1" fill="#c0c0c0"/>
<rect x="1066" y="552" width="1" height="1" fill="#c0c0c0"/>
<rect x="1074" y="552" width="1" height="1" fill="#c0c0c0"/>
<rect x="1082" y="552" width="1" height="1" fill="#c0c0c0"/>
<rect x="1090" y="552" width="1" height="1" fill="#c0c0c0"/>
<rect x="1098" y="552" width="1" height="1" fill="#c0c0c0"/>
<rect x="1106" y="552" width="1" height="4" fill="#c0c0c0"/>
<rect x="1114" y="552" width="1" height="6" fill="#c0c0c0"/>
<rect x="1122" y="552" width="1" height="7" fill="#c0c0c0"/>
<rect x="1130" y="552" width="1" height="8" fill="#c0c0c0"/>
<rect x="1138" y="552" width="1" height="7" fill="#c0c0c0"/>
<rect x="1146" y="552" width="1" height="9" fill="#c0c0c0"/>
<rect x="1154" y="552" width="1" height="11" fill="#c0c0c0"/>
<rect x="1162" y="552" width="1" height="14" fill="#c0c0c0"/>
<rect x="1170" y="552" width="1" height="16" fill="#c0c0c0"/>
<rect x="1178" y="552" width="1" height="17" fill="#c0c0c0"/>
<rect x="1186" y="552" width="1" height="19" fill="#c0c0c0"/>
<rect x="1194" y="552" width="1" height="20" fill="#c0c0c0"/>
<rect x="1202" y="552" width="1" height="20" fill="#c0c0c0"/>
<rect x="1210" y="552" width="1" height="21" fill="#c0c0c0"/>
<rect x="1218" y="552" width="1" height="23" fill="#c0c0c0"/>
<rect x="1226" y="552" width="1" height="24" fill="#c0c0c0"/>
<rect x="1234" y="552" width="1" height="26" fill="#c0c0c0"/>
<rect x="1242" y="552" width="1" height="28" fill="#c0c0c0"/>
<rect x="1250" y="552" width="1" height="31" fill="#c0c0c0"/>
<rect x="1258" y="552" width="1" height="38" fill="#c0c0c0"/>
<rect x="1266" y="552" width="1" height="40" fill="#c0c0c0"/>
<rect x="1274" y="552" width="1" height="40" fill="#c0c0c0"/>
<rect x="1282" y="552" width="1" height="39" fill="#c0c0c0"/>
<rect x="1290" y="552" width="1" height="36" fill="#c0c0c0"/>
<rect x="1298" y="552" width="1" height="34" fill="#c0c0c0"/>
<rect x="1306" y="552" width="1" height="31" fill="#c0c0c0"/>
<polyline points="2.0,548.2 40.0,547.0 90.0,543.3 120.0,542.1 150.0,541.1 200.0,541.4 219.0,542.4 225.0,543.4 237.0,544.9 250.0,546.2 263.0,547.2 274.0,548.4 283.0,549.4 295.0,551.3 308.0,552.3 326.0,553.2 343.0,554.5 355.0,553.2 373.0,552.0 392.0,550.7 412.0,548.4 420.0,547.5 460.0,546.5 494.0,544.3 532.0,544.3 546.0,545.3 568.0,546.5 582.0,547.5 598.0,548.5 609.0,550.4 620.0,551.6 633.0,553.3 645.0,554.4 650.0,555.6 680.0,556.4 730.0,555.5 760.0,556.4 785.0,557.4 795.0,556.4 807.0,555.5 825.0,554.3 840.0,552.2 870.0,551.0 880.0,548.5 900.0,547.6 920.0,546.4 940.0,546.4 950.0,547.6 990.0,547.6 1000.0,546.4 1025.0,546.4 1040.0,547.3 1077.0,549.5 1105.0,551.3 1133.0,554.6 1161.0,559.2 1180.0,562.6 1203.5,567.5 1227.0,571.5 1251.4,576.4 1263.6,579.5 1281.5,585.3 1293.6,586.6 1305.0,588.4" fill="none" stroke="#ff0000" stroke-width="1" stroke-dasharray="3,3"/>
</g>
<g clip-path="url(#cr)">
<line x1="2" y1="637.5" x2="1651" y2="637.5" stroke="#b4b4b4" stroke-width="1" stroke-dasharray="3,3"/>
<line x1="2" y1="688.5" x2="1651" y2="688.5" stroke="#b4b4b4" stroke-width="1" stroke-dasharray="3,3"/>
<polyline points="2,646.3 10,645.3 18,649.2 26,645.3 34,651.3 42,651.3 50,650.3 58,643.6 66,642.5 74,644.4 82,640.2 90,638.3 98,633.5 106,631.2 114,631.2 122,632.5 130,633.5 138,631.6 146,630.2 154,631.6 162,630.2 170,630.2 178,639.2 186,646.9 194,664.1 202,652.6 210,657.0 218,659.3 226,663.1 234,661.2 242,666.0 250,671.4 258,668.5 266,673.7 274,681.3 282,682.6 290,678.1 298,665.0 306,659.7 314,661.2 322,661.4 330,665.7 338,667.9 346,648.8 354,649.4 362,648.2 370,642.5 378,645.5 386,644.4 394,644.4 402,646.3 410,644.4 418,639.6 426,643.6 434,641.1 442,643.6 450,637.9 458,641.1 466,643.6 474,639.6 482,636.3 490,638.3 498,650.1 506,646.3 514,645.5 522,644.4 530,648.2 538,645.5 546,660.3 554,665.0 562,666.6 570,664.7 578,660.8 586,662.2 594,673.7 602,685.1 610,689.0 618,691.4 626,689.0 634,684.6 642,689.0 650,663.3 658,661.2 666,656.4 674,655.5 682,659.7 690,666.0 698,678.1 706,680.4 714,678.4 722,680.4 730,676.5 738,670.4 746,670.4 754,667.3 762,665.4 770,662.8 778,661.2 786,656.4 794,662.2 802,648.2 810,651.3 818,649.4 826,657.4 834,657.4 842,652.6 850,641.1 858,641.1 866,641.1 874,641.1 882,637.3 890,660.3 898,661.6 906,659.7 914,655.5 922,656.4 930,653.6 938,645.9 946,644.4 954,648.2 962,649.6 970,652.3 978,649.4 986,647.4 994,652.0 1002,654.5 1010,651.3 1018,650.7 1026,658.9 1034,672.3 1042,669.3 1050,664.7 1058,662.2 1066,659.7 1074,661.2 1082,660.3 1090,660.3 1098,689.5 1106,694.1 1114,681.3 1122,682.3 1130,680.0 1138,660.8 1146,684.6 1154,687.0 1162,687.4 1170,689.5 1178,687.0 1186,692.2 1194,688.4 1202,687.5 1210,688.5 1218,696.0 1226,696.2 1234,697.7 1242,703.0 1250,706.5 1258,712.0 1266,686.5 1274,686.4 1282,679.4 1290,679.1 1298,671.1 1306,673.4" fill="none" stroke="#1e90ff" stroke-width="1"/>
</g>
<rect x="1.5" y="40.5" width="1650" height="493" fill="none" stroke="#000" stroke-width="1"/>
<rect x="1.5" y="535.5" width="1650" height="61" fill="none" stroke="#000" stroke-width="1"/>
<rect x="1.5" y="598.5" width="1650" height="128" fill="none" stroke="#000" stroke-width="1"/>
<rect x="1652" y="73" width="3" height="1" fill="#000"/>
<rect x="1652" y="122" width="3" height="1" fill="#000"/>
<rect x="1652" y="171" width="3" height="1" fill="#000"/>
<rect x="1652" y="220" width="3" height="1" fill="#000"/>
<rect x="1652" y="269" width="3" height="1" fill="#000"/>
<rect x="1652" y="318" width="3" height="1" fill="#000"/>
<rect x="1652" y="367" width="3" height="1" fill="#000"/>
<rect x="1652" y="416" width="3" height="1" fill="#000"/>
<rect x="1652" y="465" width="3" height="1" fill="#000"/>
<rect x="1652" y="514" width="3" height="1" fill="#000"/>
<rect x="1652" y="537" width="3" height="1" fill="#000"/>
<rect x="1652" y="552" width="3" height="1" fill="#000"/>
<rect x="1652" y="596" width="3" height="1" fill="#000"/>
<rect x="1652" y="599" width="3" height="1" fill="#000"/>
<rect x="1652" y="726" width="3" height="1" fill="#000"/>
<rect x="2" y="727" width="1" height="4" fill="#000"/>
<rect x="98" y="727" width="1" height="4" fill="#000"/>
<rect x="194" y="727" width="1" height="4" fill="#000"/>
<rect x="290" y="727" width="1" height="4" fill="#000"/>
<rect x="386" y="727" width="1" height="4" fill="#000"/>
<rect x="482" y="727" width="1" height="4" fill="#000"/>
<rect x="578" y="727" width="1" height="4" fill="#000"/>
<rect x="674" y="727" width="1" height="4" fill="#000"/>
<rect x="770" y="727" width="1" height="4" fill="#000"/>
<rect x="866" y="727" width="1" height="4" fill="#000"/>
<rect x="962" y="727" width="1" height="4" fill="#000"/>
<rect x="1058" y="727" width="1" height="4" fill="#000"/>
<rect x="1154" y="727" width="1" height="4" fill="#000"/>
<rect x="1250" y="727" width="1" height="4" fill="#000"/>
<text x="1658" y="77.5" font-size="12" fill="#000" font-weight="normal" text-anchor="start" textLength="52" lengthAdjust="spacingAndGlyphs">3024.030</text>
<text x="1658" y="126.5" font-size="12" fill="#000" font-weight="normal" text-anchor="start" textLength="52" lengthAdjust="spacingAndGlyphs">2997.080</text>
<text x="1658" y="175.5" font-size="12" fill="#000" font-weight="normal" text-anchor="start" textLength="52" lengthAdjust="spacingAndGlyphs">2970.130</text>
<text x="1658" y="224.5" font-size="12" fill="#000" font-weight="normal" text-anchor="start" textLength="52" lengthAdjust="spacingAndGlyphs">2942.630</text>
<text x="1658" y="273.5" font-size="12" fill="#000" font-weight="normal" text-anchor="start" textLength="52" lengthAdjust="spacingAndGlyphs">2915.680</text>
<text x="1658" y="322.5" font-size="12" fill="#000" font-weight="normal" text-anchor="start" textLength="52" lengthAdjust="spacingAndGlyphs">2888.730</text>
<text x="1658" y="371.5" font-size="12" fill="#000" font-weight="normal" text-anchor="start" textLength="52" lengthAdjust="spacingAndGlyphs">2861.780</text>
<text x="1658" y="420.5" font-size="12" fill="#000" font-weight="normal" text-anchor="start" textLength="52" lengthAdjust="spacingAndGlyphs">2834.280</text>
<text x="1658" y="469.5" font-size="12" fill="#000" font-weight="normal" text-anchor="start" textLength="52" lengthAdjust="spacingAndGlyphs">2807.330</text>
<text x="1658" y="518.5" font-size="12" fill="#000" font-weight="normal" text-anchor="start" textLength="52" lengthAdjust="spacingAndGlyphs">2780.380</text>
<rect x="1653" y="182" width="63" height="14" fill="#ff0000"/>
<text x="1658" y="193.5" font-size="12" fill="#fff" font-weight="normal" text-anchor="start" textLength="52" lengthAdjust="spacingAndGlyphs">2960.641</text>
<rect x="1653" y="273" width="63" height="14" fill="#ff0000"/>
<text x="1658" y="284.5" font-size="12" fill="#fff" font-weight="normal" text-anchor="start" textLength="52" lengthAdjust="spacingAndGlyphs">2910.000</text>
<rect x="1653" y="342" width="63" height="14" fill="#000000"/>
<text x="1658" y="353.5" font-size="12" fill="#fff" font-weight="normal" text-anchor="start" textLength="52" lengthAdjust="spacingAndGlyphs">2871.750</text>
<rect x="1653" y="356" width="63" height="14" fill="#00ff7f"/>
<text x="1658" y="367.5" font-size="12" fill="#fff" font-weight="normal" text-anchor="start" textLength="52" lengthAdjust="spacingAndGlyphs">2864.080</text>
<rect x="1653" y="472" width="63" height="14" fill="#0000ff"/>
<text x="1658" y="483.5" font-size="12" fill="#fff" font-weight="normal" text-anchor="start" textLength="52" lengthAdjust="spacingAndGlyphs">2800.000</text>
<text x="1655" y="548.6" font-size="12" fill="#000" font-weight="normal" text-anchor="start" textLength="43" lengthAdjust="spacingAndGlyphs">16.2312</text>
<text x="1655" y="556.6" font-size="12" fill="#000" font-weight="normal" text-anchor="start" textLength="25" lengthAdjust="spacingAndGlyphs">0.00</text>
<text x="1655" y="592.5" font-size="12" fill="#000" font-weight="normal" text-anchor="start" textLength="49" lengthAdjust="spacingAndGlyphs">-45.2563</text>
<text x="1655" y="612" font-size="12" fill="#000" font-weight="normal" text-anchor="start">100</text>
<text x="1654" y="642" font-size="12" fill="#000" font-weight="normal" text-anchor="start">70</text>
<text x="1654" y="693" font-size="12" fill="#000" font-weight="normal" text-anchor="start">30</text>
<text x="1654" y="723" font-size="12" fill="#000" font-weight="normal" text-anchor="start">0</text>
<text x="1.2" y="742" font-size="12" fill="#000" font-weight="normal" text-anchor="start" textLength="56.5" lengthAdjust="spacingAndGlyphs">1 Jul 2019</text>
<text x="97.2" y="742" font-size="12" fill="#000" font-weight="normal" text-anchor="start" textLength="60.3" lengthAdjust="spacingAndGlyphs">3 Jul 12:00</text>
<text x="193.2" y="742" font-size="12" fill="#000" font-weight="normal" text-anchor="start" textLength="60.2" lengthAdjust="spacingAndGlyphs">5 Jul 12:00</text>
<text x="289.2" y="742" font-size="12" fill="#000" font-weight="normal" text-anchor="start" textLength="60.2" lengthAdjust="spacingAndGlyphs">9 Jul 08:00</text>
<text x="385.2" y="742" font-size="12" fill="#000" font-weight="normal" text-anchor="start" textLength="67.2" lengthAdjust="spacingAndGlyphs">11 Jul 08:00</text>
<text x="481.2" y="742" font-size="12" fill="#000" font-weight="normal" text-anchor="start" textLength="67" lengthAdjust="spacingAndGlyphs">15 Jul 04:00</text>
<text x="577.2" y="742" font-size="12" fill="#000" font-weight="normal" text-anchor="start" textLength="67.3" lengthAdjust="spacingAndGlyphs">17 Jul 04:00</text>
<text x="673.2" y="742" font-size="12" fill="#000" font-weight="normal" text-anchor="start" textLength="67.6" lengthAdjust="spacingAndGlyphs">19 Jul 04:00</text>
<text x="769.2" y="742" font-size="12" fill="#000" font-weight="normal" text-anchor="start" textLength="68.1" lengthAdjust="spacingAndGlyphs">23 Jul 00:00</text>
<text x="865.2" y="742" font-size="12" fill="#000" font-weight="normal" text-anchor="start" textLength="67.9" lengthAdjust="spacingAndGlyphs">25 Jul 00:00</text>
<text x="961.2" y="742" font-size="12" fill="#000" font-weight="normal" text-anchor="start" textLength="67.8" lengthAdjust="spacingAndGlyphs">28 Jul 23:00</text>
<text x="1057.2" y="742" font-size="12" fill="#000" font-weight="normal" text-anchor="start" textLength="67.3" lengthAdjust="spacingAndGlyphs">30 Jul 20:00</text>
<text x="1153.2" y="742" font-size="12" fill="#000" font-weight="normal" text-anchor="start" textLength="68.1" lengthAdjust="spacingAndGlyphs">1 Aug 20:00</text>
<text x="1249.2" y="742" font-size="12" fill="#000" font-weight="normal" text-anchor="start" textLength="68.3" lengthAdjust="spacingAndGlyphs">5 Aug 16:00</text>
<path d="M5,53 L9.5,47 L14,53 Z" fill="#000"/>
<text x="20" y="55" font-size="12" fill="#000" font-weight="normal" text-anchor="start" textLength="57" lengthAdjust="spacingAndGlyphs">SP500-,H4</text>
<text x="87" y="55" font-size="12" fill="#000" font-weight="normal" text-anchor="start" textLength="51.5" lengthAdjust="spacingAndGlyphs">2880.250</text>
<text x="144" y="55" font-size="12" fill="#000" font-weight="normal" text-anchor="start" textLength="51.5" lengthAdjust="spacingAndGlyphs">2883.000</text>
<text x="201" y="55" font-size="12" fill="#000" font-weight="normal" text-anchor="start" textLength="51.5" lengthAdjust="spacingAndGlyphs">2870.750</text>
<text x="258" y="55" font-size="12" fill="#000" font-weight="normal" text-anchor="start" textLength="51.5" lengthAdjust="spacingAndGlyphs">2871.750</text>
<text x="6" y="551" font-size="12" fill="#000" font-weight="normal" text-anchor="start" textLength="192" lengthAdjust="spacingAndGlyphs">MACD(12,26,9) -32.7935 -37.3725</text>
<text x="6" y="614" font-size="12" fill="#000" font-weight="normal" text-anchor="start" textLength="90.5" lengthAdjust="spacingAndGlyphs">RSI(14) 41.6251</text>
<path d="M1314,41 L1325,41 L1319.5,47 Z" fill="#c0c0c0"/>
<defs>
<linearGradient id="gtab" x1="0" y1="0" x2="0" y2="1"><stop offset="0" stop-color="#f85050"/><stop offset="1" stop-color="#e23636"/></linearGradient>
<linearGradient id="gbig" x1="0" y1="0" x2="0" y2="1"><stop offset="0" stop-color="#e53131"/><stop offset="1" stop-color="#a80000"/></linearGradient>
<linearGradient id="gbtn" x1="0" y1="0" x2="0" y2="1"><stop offset="0" stop-color="#f2f2f2"/><stop offset="0.45" stop-color="#e4e4e4"/><stop offset="0.5" stop-color="#d6d6d6"/><stop offset="1" stop-color="#cacaca"/></linearGradient>
</defs>
<!-- big boxes -->
<rect x="5" y="90" width="141" height="49" fill="url(#gbig)"/>
<rect x="148" y="90" width="140" height="49" fill="url(#gbig)"/>
<!-- sell tab -->
<rect x="5" y="63" width="68" height="28" fill="url(#gtab)"/>
<rect x="5" y="63" width="68" height="1" fill="#c00000"/>
<rect x="9" y="90" width="60" height="1" fill="#a01010"/>
<!-- buy tab -->
<rect x="220" y="63" width="68" height="28" fill="url(#gtab)"/>
<rect x="220" y="63" width="68" height="1" fill="#c00000"/>
<rect x="224" y="90" width="60" height="1" fill="#a01010"/>
<!-- input -->
<rect x="73" y="63" width="147" height="27" fill="#ffffff"/>
<rect x="75.5" y="63.5" width="142" height="24" fill="#ffffff" stroke="#a8a8b0" stroke-width="1"/>
<rect x="77" y="65" width="22" height="22" fill="url(#gbtn)" stroke="#c8c8c8" stroke-width="1"/>
<rect x="194" y="65" width="23" height="22" fill="url(#gbtn)" stroke="#c8c8c8" stroke-width="1"/>
<path d="M84.5,75 L91,75 L87.75,78.5 Z" fill="#4060c0" shape-rendering="geometricPrecision"/>
<path d="M201.5,78 L208,78 L204.75,74.5 Z" fill="#4060c0" shape-rendering="geometricPrecision"/>
<g font-family="Liberation Sans, sans-serif">
<text x="189" y="81" font-size="14" fill="#000" text-anchor="end" textLength="29" lengthAdjust="spacingAndGlyphs">1.00</text>
<text x="22.5" y="82" font-size="14" fill="#ffeef0" textLength="32.5" lengthAdjust="spacingAndGlyphs">SELL</text>
<text x="239.5" y="82" font-size="14" fill="#ffeef0" textLength="28.5" lengthAdjust="spacingAndGlyphs">BUY</text>
<text x="26" y="128" font-size="15" font-weight="bold" fill="#fff" textLength="35.5" lengthAdjust="spacingAndGlyphs">2871</text>
<text x="67.5" y="128" font-size="41" fill="#fff" textLength="40.5" lengthAdjust="spacingAndGlyphs">73</text>
<text x="115.5" y="110" font-size="15" font-weight="bold" fill="#fff" textLength="8" lengthAdjust="spacingAndGlyphs">5</text>
<text x="168" y="128" font-size="15" font-weight="bold" fill="#fff" textLength="36" lengthAdjust="spacingAndGlyphs">2872</text>
<text x="211" y="128" font-size="41" fill="#fff" textLength="40" lengthAdjust="spacingAndGlyphs">51</text>
<text x="258.5" y="110" font-size="15" font-weight="bold" fill="#fff" textLength="8" lengthAdjust="spacingAndGlyphs">5</text>
</g>

</svg>
</body></html>
